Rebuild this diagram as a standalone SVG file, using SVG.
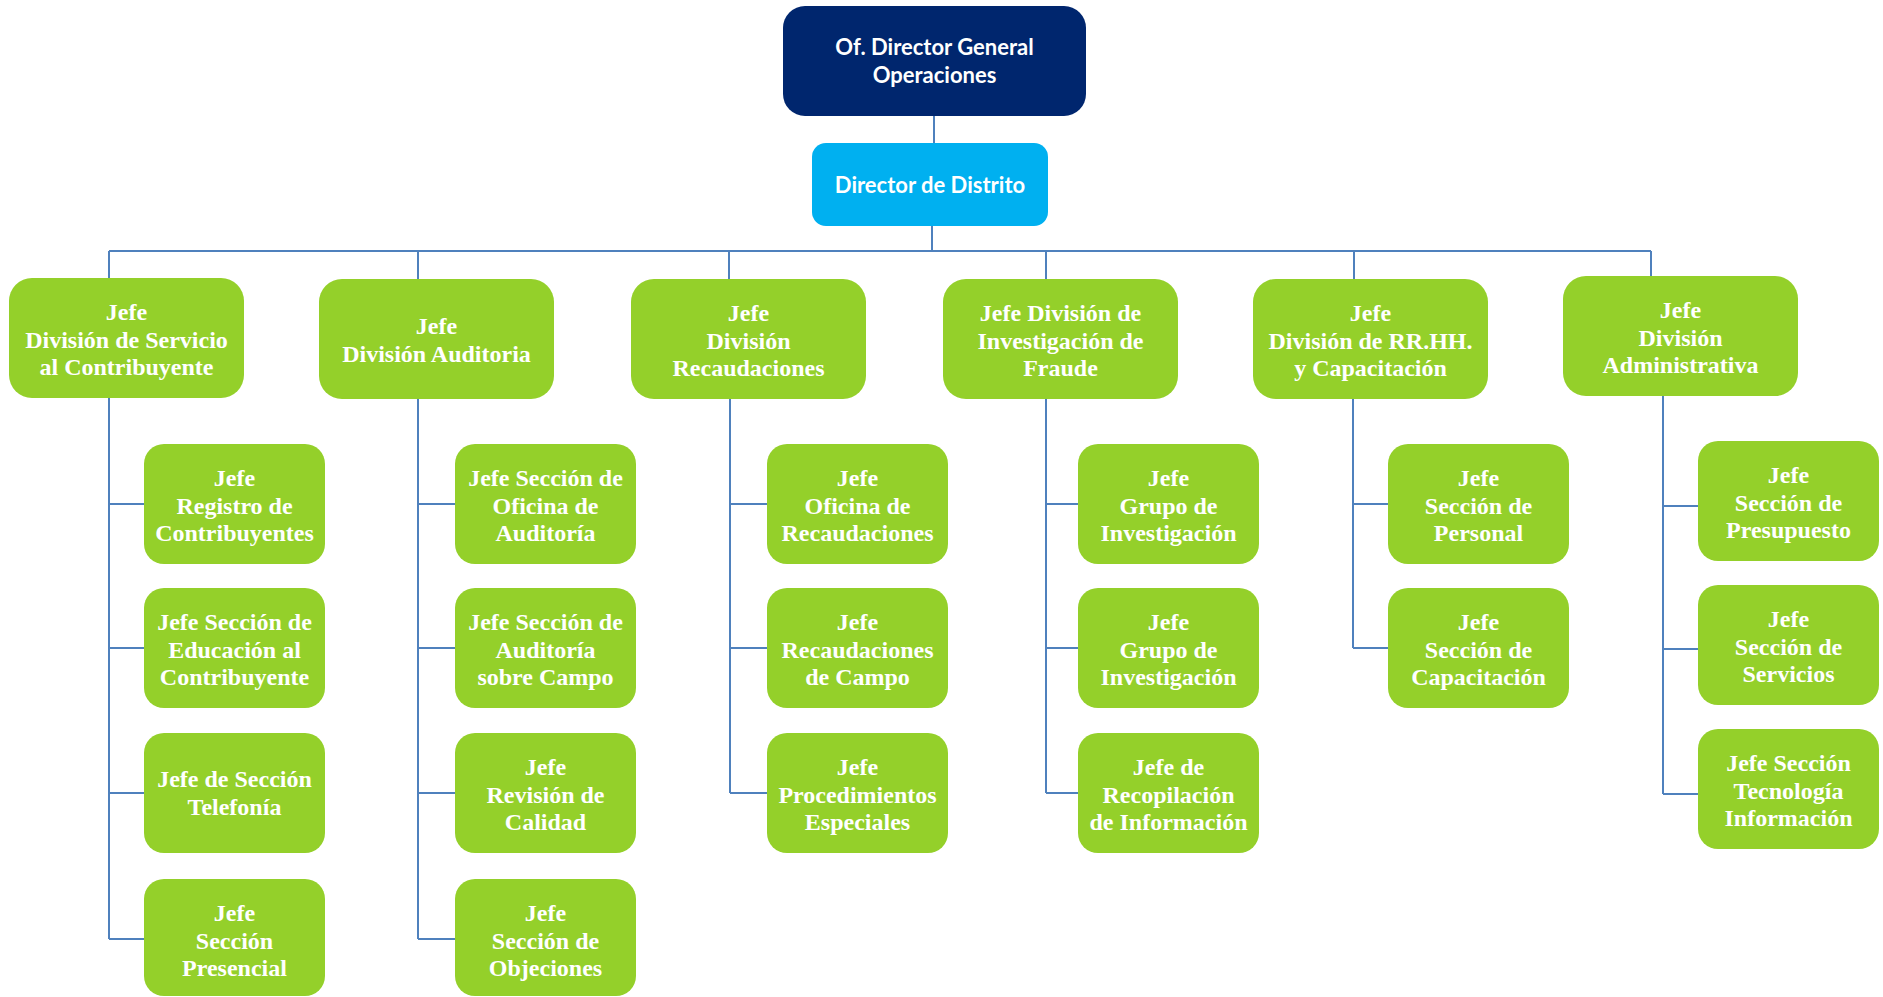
<svg xmlns="http://www.w3.org/2000/svg" width="1883" height="997" viewBox="0 0 1883 997">
<style>
.bg{fill:#ffffff}
.top{fill:#00266E}
.dist{fill:#00B0F0}
.g{fill:#94D02A}
.tt{font-family:Lato,"Open Sans","Liberation Sans",sans-serif;font-weight:bold;font-size:22px;fill:#ffffff;text-anchor:middle}
.t{font-family:"Liberation Serif","Times New Roman",serif;font-weight:bold;font-size:24px;fill:#ffffff;text-anchor:middle}
.c{fill:none;stroke:#4F81BD;stroke-width:2}
</style>
<rect class="bg" x="0" y="0" width="1883" height="997"/>
<g id="connectors">
<path class="c" d="M934,116V143 M932,226V251 M109,251H1651 M109,251V278 M418,251V279 M729,251V279 M1046,251V279 M1354,251V279 M1651,251V276"/>
<path class="c" d="M109,398V939 M109,504H144 M109,648H144 M109,793H144 M109,939H144"/>
<path class="c" d="M418,399V939 M418,504H455 M418,648H455 M418,793H455 M418,939H455"/>
<path class="c" d="M730,399V793 M730,504H767 M730,648H767 M730,793H767"/>
<path class="c" d="M1046,399V793 M1046,504H1078 M1046,648H1078 M1046,793H1078"/>
<path class="c" d="M1353,399V648 M1353,504H1388 M1353,648H1388"/>
<path class="c" d="M1663,396V794 M1663,506H1698 M1663,649H1698 M1663,794H1698"/>
</g>
<g id="n-top"><rect class="top" x="783" y="6" width="303" height="110" rx="22"/><text class="tt" x="934.5" y="55">Of. Director General</text><text class="tt" x="934.5" y="83">Operaciones</text></g>
<g id="n-distrito"><rect class="dist" x="812" y="143" width="236" height="83" rx="14"/><text class="tt" x="930" y="193">Director de Distrito</text></g>

<g id="d1"><rect class="g" x="9" y="278" width="235" height="120" rx="23"/><text class="t" x="126.5" y="320">Jefe</text><text class="t" x="126.5" y="347.5">División de Servicio</text><text class="t" x="126.5" y="375">al Contribuyente</text></g>
<g id="d2"><rect class="g" x="319" y="279" width="235" height="120" rx="23"/><text class="t" x="436.5" y="334">Jefe</text><text class="t" x="436.5" y="362">División Auditoria</text></g>
<g id="d3"><rect class="g" x="631" y="279" width="235" height="120" rx="23"/><text class="t" x="748.5" y="321">Jefe</text><text class="t" x="748.5" y="348.5">División</text><text class="t" x="748.5" y="376">Recaudaciones</text></g>
<g id="d4"><rect class="g" x="943" y="279" width="235" height="120" rx="23"/><text class="t" x="1060.5" y="321">Jefe División de</text><text class="t" x="1060.5" y="348.5">Investigación de</text><text class="t" x="1060.5" y="376">Fraude</text></g>
<g id="d5"><rect class="g" x="1253" y="279" width="235" height="120" rx="23"/><text class="t" x="1370.5" y="321">Jefe</text><text class="t" x="1370.5" y="348.5">División de RR.HH.</text><text class="t" x="1370.5" y="376">y Capacitación</text></g>
<g id="d6"><rect class="g" x="1563" y="276" width="235" height="120" rx="23"/><text class="t" x="1680.5" y="318">Jefe</text><text class="t" x="1680.5" y="345.5">División</text><text class="t" x="1680.5" y="373">Administrativa</text></g>

<g id="c1-1"><rect class="g" x="144" y="444" width="181" height="120" rx="20"/><text class="t" x="234.5" y="486">Jefe</text><text class="t" x="234.5" y="513.5">Registro de</text><text class="t" x="234.5" y="541">Contribuyentes</text></g>
<g id="c1-2"><rect class="g" x="144" y="588" width="181" height="120" rx="20"/><text class="t" x="234.5" y="630">Jefe Sección de</text><text class="t" x="234.5" y="657.5">Educación al</text><text class="t" x="234.5" y="685">Contribuyente</text></g>
<g id="c1-3"><rect class="g" x="144" y="733" width="181" height="120" rx="20"/><text class="t" x="234.5" y="787">Jefe de Sección</text><text class="t" x="234.5" y="814.5">Telefonía</text></g>
<g id="c1-4"><rect class="g" x="144" y="879" width="181" height="117" rx="20"/><text class="t" x="234.5" y="921">Jefe</text><text class="t" x="234.5" y="948.5">Sección</text><text class="t" x="234.5" y="976">Presencial</text></g>

<g id="c2-1"><rect class="g" x="455" y="444" width="181" height="120" rx="20"/><text class="t" x="545.5" y="486">Jefe Sección de</text><text class="t" x="545.5" y="513.5">Oficina de</text><text class="t" x="545.5" y="541">Auditoría</text></g>
<g id="c2-2"><rect class="g" x="455" y="588" width="181" height="120" rx="20"/><text class="t" x="545.5" y="630">Jefe Sección de</text><text class="t" x="545.5" y="657.5">Auditoría</text><text class="t" x="545.5" y="685">sobre Campo</text></g>
<g id="c2-3"><rect class="g" x="455" y="733" width="181" height="120" rx="20"/><text class="t" x="545.5" y="775">Jefe</text><text class="t" x="545.5" y="802.5">Revisión de</text><text class="t" x="545.5" y="830">Calidad</text></g>
<g id="c2-4"><rect class="g" x="455" y="879" width="181" height="117" rx="20"/><text class="t" x="545.5" y="921">Jefe</text><text class="t" x="545.5" y="948.5">Sección de</text><text class="t" x="545.5" y="976">Objeciones</text></g>

<g id="c3-1"><rect class="g" x="767" y="444" width="181" height="120" rx="20"/><text class="t" x="857.5" y="486">Jefe</text><text class="t" x="857.5" y="513.5">Oficina de</text><text class="t" x="857.5" y="541">Recaudaciones</text></g>
<g id="c3-2"><rect class="g" x="767" y="588" width="181" height="120" rx="20"/><text class="t" x="857.5" y="630">Jefe</text><text class="t" x="857.5" y="657.5">Recaudaciones</text><text class="t" x="857.5" y="685">de Campo</text></g>
<g id="c3-3"><rect class="g" x="767" y="733" width="181" height="120" rx="20"/><text class="t" x="857.5" y="775">Jefe</text><text class="t" x="857.5" y="802.5">Procedimientos</text><text class="t" x="857.5" y="830">Especiales</text></g>

<g id="c4-1"><rect class="g" x="1078" y="444" width="181" height="120" rx="20"/><text class="t" x="1168.5" y="486">Jefe</text><text class="t" x="1168.5" y="513.5">Grupo de</text><text class="t" x="1168.5" y="541">Investigación</text></g>
<g id="c4-2"><rect class="g" x="1078" y="588" width="181" height="120" rx="20"/><text class="t" x="1168.5" y="630">Jefe</text><text class="t" x="1168.5" y="657.5">Grupo de</text><text class="t" x="1168.5" y="685">Investigación</text></g>
<g id="c4-3"><rect class="g" x="1078" y="733" width="181" height="120" rx="20"/><text class="t" x="1168.5" y="775">Jefe de</text><text class="t" x="1168.5" y="802.5">Recopilación</text><text class="t" x="1168.5" y="830">de Información</text></g>

<g id="c5-1"><rect class="g" x="1388" y="444" width="181" height="120" rx="20"/><text class="t" x="1478.5" y="486">Jefe</text><text class="t" x="1478.5" y="513.5">Sección de</text><text class="t" x="1478.5" y="541">Personal</text></g>
<g id="c5-2"><rect class="g" x="1388" y="588" width="181" height="120" rx="20"/><text class="t" x="1478.5" y="630">Jefe</text><text class="t" x="1478.5" y="657.5">Sección de</text><text class="t" x="1478.5" y="685">Capacitación</text></g>

<g id="c6-1"><rect class="g" x="1698" y="441" width="181" height="120" rx="20"/><text class="t" x="1788.5" y="483">Jefe</text><text class="t" x="1788.5" y="510.5">Sección de</text><text class="t" x="1788.5" y="538">Presupuesto</text></g>
<g id="c6-2"><rect class="g" x="1698" y="585" width="181" height="120" rx="20"/><text class="t" x="1788.5" y="627">Jefe</text><text class="t" x="1788.5" y="654.5">Sección de</text><text class="t" x="1788.5" y="682">Servicios</text></g>
<g id="c6-3"><rect class="g" x="1698" y="729" width="181" height="120" rx="20"/><text class="t" x="1788.5" y="771">Jefe Sección</text><text class="t" x="1788.5" y="798.5">Tecnología</text><text class="t" x="1788.5" y="826">Información</text></g>
</svg>
